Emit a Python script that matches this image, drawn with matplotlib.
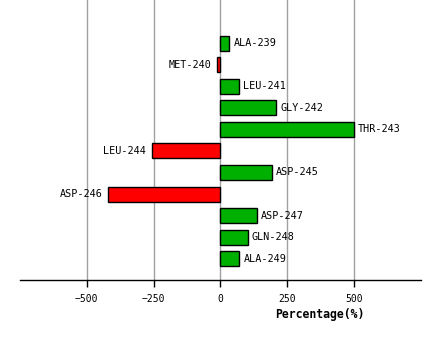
import matplotlib
matplotlib.use("Agg")
import matplotlib.pyplot as plt

# residues, top to bottom
residues = ["ALA-239", "MET-240", "LEU-241", "GLY-242", "THR-243", "LEU-244",
            "ASP-245", "ASP-246", "ASP-247", "GLN-248", "ALA-249"]
# percentage change
values = [34, -11, 71, 210, 500, -257, 192, -420, 136, 103, 71]
xticks = [-500, -250, 0, 250, 500]

fig = plt.figure(figsize=(4.4, 3.4), dpi=100)
ax = fig.add_axes([20 / 440, (340 - 280.3) / 340, 400.7 / 440, 280.3 / 340])

ypos = list(range(len(residues)))
colors = ["#00b000" if v >= 0 else "#ff0000" for v in values]
ax.barh(ypos, values, height=0.7, color=colors, edgecolor="black",
        linewidth=1.0, zorder=3)

for y, v, name in zip(ypos, values, residues):
    if v >= 0:
        ax.text(v + 15, y, name, ha="left", va="center",
                family="DejaVu Sans Mono", fontsize=7.3, zorder=4)
    else:
        ax.text(v - 22, y, name, ha="right", va="center",
                family="DejaVu Sans Mono", fontsize=7.3, zorder=4)

ax.set_xlim(-750, 750)
ax.set_ylim(len(residues), -2)
ax.set_yticks([])
ax.set_xticks(xticks)
ax.set_xticklabels([str(t).replace("-", "\u2212") for t in xticks],
                   family="DejaVu Sans Mono", fontsize=7)
ax.tick_params(axis="x", length=5, width=1, direction="out", pad=5)
ax.xaxis.grid(True, color="#a0a0a0", linewidth=1.0, zorder=0)

for s in ["top", "left", "right"]:
    ax.spines[s].set_visible(False)
ax.spines["bottom"].set_linewidth(1.0)

ax.text(374, len(residues) + 1.6, "Percentage(%)", ha="center", va="center",
        family="DejaVu Sans Mono", fontweight="bold", fontsize=8.3)

fig.savefig("out.png", dpi=100)
